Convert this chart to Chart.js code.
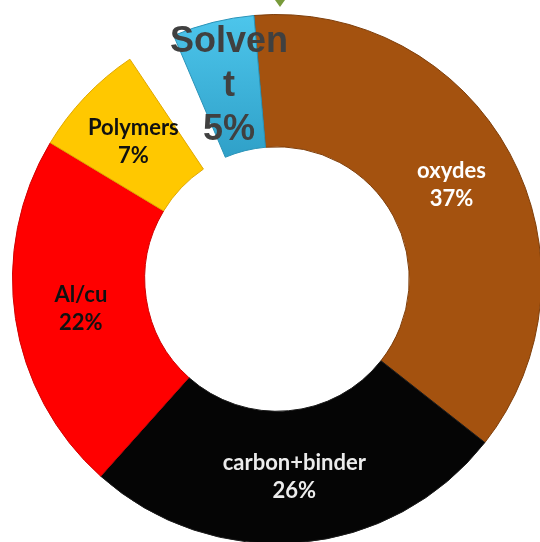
<!DOCTYPE html>
<html>
<head>
<meta charset="utf-8">
<script src="https://cdn.jsdelivr.net/npm/chart.js@4.4.0/dist/chart.umd.min.js"></script>
<style>
  html, body { margin: 0; padding: 0; background: #fff; overflow: hidden; }
  body { width: 540px; height: 542px; position: relative; }
  #wrap { position: absolute; left: 12px; top: 14px; width: 530px; height: 530px; }
  #marker {
    position: absolute; left: 275px; top: 0; width: 0; height: 0;
    border-left: 5px solid transparent; border-right: 5px solid transparent;
    border-top: 7px solid #789a3a;
  }
</style>
</head>
<body>
<div id="marker"></div>
<div id="wrap"><canvas id="chart"></canvas></div>
<script>
// composition shares, in percent
const categories = ['oxydes', 'carbon+binder', 'Al/cu', 'Polymers', 'Solvent'];
const percents = [37, 26, 22, 7, 5];
const sliceColors = ['#a4520f', '#050505', '#ff0000', '#ffc800', '#3fbde3'];
const edgeColors = ['#7e3e0a', '#1c1c1c', '#d00000', '#e0a800', '#2a93b8'];
const textColors = ['#ffffff', '#ececec', '#111111', '#111111', '#404040'];

// whatever the labelled parts leave over stays blank, just before Solvent
const blankShare = 100 - percents.reduce((a, b) => a + b, 0);
const gapAt = 4;
const labels = categories.slice();
const values = percents.slice();
labels.splice(gapAt, 0, '');
values.splice(gapAt, 0, blankShare);

function colorAt(list, i) {
  if (i === gapAt) return 'rgba(0,0,0,0)';
  return list[i < gapAt ? i : i - 1];
}

function sliceFill(c) {
  const i = c.dataIndex;
  if (labels[i] === 'Solvent' && c.chart.chartArea) {
    const a = c.chart.chartArea;
    const g = c.chart.ctx.createLinearGradient(0, a.top, 0, a.top + a.height * 0.3);
    g.addColorStop(0, '#4dc6ec');
    g.addColorStop(1, '#2c9cc4');
    return g;
  }
  return colorAt(sliceColors, i);
}

// break a label so that no line is wider than maxWidth (splits long words too)
function wrapText(ctx, text, maxWidth) {
  const out = [];
  let line = '';
  for (const ch of text) {
    if (line && ctx.measureText(line + ch).width > maxWidth) {
      out.push(line);
      line = ch;
    } else {
      line += ch;
    }
  }
  if (line) out.push(line);
  return out;
}

const sliceLabels = {
  id: 'sliceLabels',
  afterDatasetsDraw(chart) {
    const ctx = chart.ctx;
    const meta = chart.getDatasetMeta(0);
    meta.data.forEach((arc, i) => {
      const name = labels[i];
      if (!name) return;
      const big = name === 'Solvent';
      const font = big ? 'bold 36px "Liberation Sans", Arial, sans-serif'
                       : 'bold 22px Lato, "Open Sans", sans-serif';
      const lineH = big ? 44 : 28;
      ctx.save();
      ctx.font = font;
      ctx.fillStyle = colorAt(textColors, i);
      ctx.textAlign = 'center';
      ctx.textBaseline = 'middle';
      const lines = wrapText(ctx, name, big ? 122 : 400);
      lines.push(values[i] + '%');
      const p = arc.tooltipPosition();
      const top = p.y - (lines.length - 1) * lineH / 2;
      lines.forEach((t, k) => ctx.fillText(t, p.x, top + k * lineH));
      ctx.restore();
    });
  }
};

new Chart(document.getElementById('chart'), {
  type: 'doughnut',
  data: {
    labels: labels,
    datasets: [{
      data: values,
      backgroundColor: sliceFill,
      borderColor: c => colorAt(edgeColors, c.dataIndex),
      borderWidth: c => (c.dataIndex === gapAt ? 0 : 1)
    }]
  },
  options: {
    responsive: true,
    maintainAspectRatio: false,
    animation: false,
    events: [],
    cutout: '50%',
    rotation: -5,
    layout: { padding: 0 },
    plugins: {
      legend: { display: false },
      tooltip: { enabled: false }
    }
  },
  plugins: [sliceLabels]
});
</script>
</body>
</html>
